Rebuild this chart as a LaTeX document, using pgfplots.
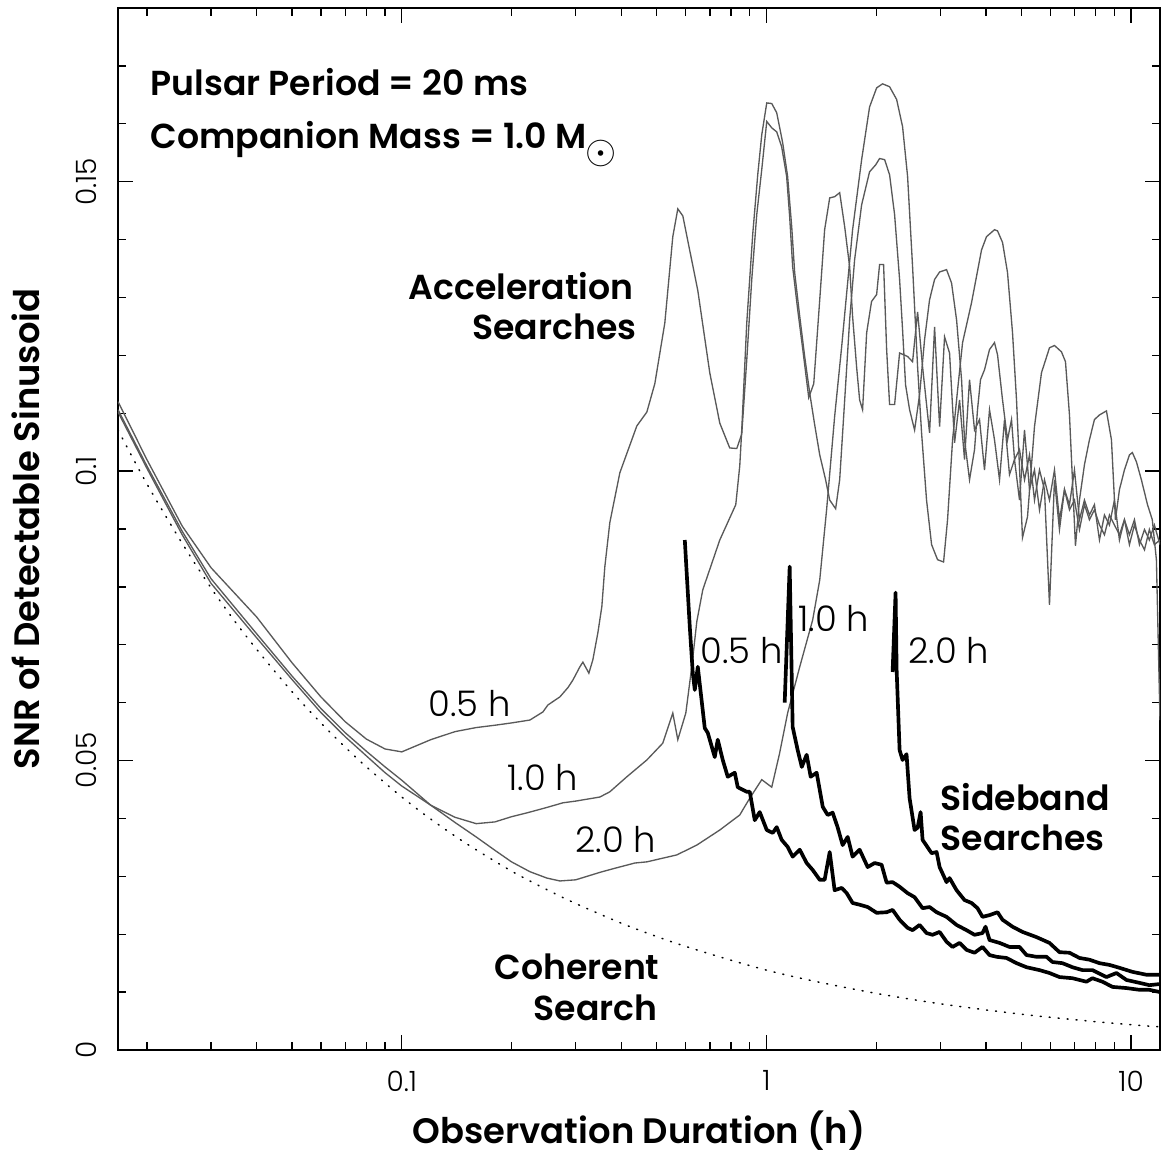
\documentclass[border=0pt]{standalone}
\usepackage{fontspec}
\IfFontExistsTF{Poppins SemiBold}{\setmainfont{Poppins}[BoldFont={Poppins SemiBold}]}{\setmainfont{Poppins}}
\IfFontExistsTF{Poppins Light}{\newfontfamily\thinfont{Poppins Light}}{\newfontfamily\thinfont{Poppins}}
\usepackage{pgfplots}
\pgfplotsset{compat=1.18}
\newcommand{\ann}{\fontsize{10.4}{12}\selectfont}
\begin{document}
\begin{tikzpicture}
\useasboundingbox (-35.4pt,-30.9pt) rectangle (313.2pt,315.0pt);
\begin{axis}[
  at={(0,0)}, anchor=south west, scale only axis,
  width=312.6pt, height=312.6pt,
  xmode=log, xmin=0.016667, xmax=12, ymin=0, ymax=0.18,
  xtick={0.1,1,10}, xticklabels={0.1,1,10},
  minor xtick={0.02,0.03,0.04,0.05,0.06,0.07,0.08,0.09,0.2,0.3,0.4,0.5,0.6,0.7,0.8,0.9,2,3,4,5,6,7,8,9},
  ytick={0,0.05,0.1,0.15}, yticklabels={0,0.05,0.1,0.15},
  minor ytick={0.01,0.02,0.03,0.04,0.06,0.07,0.08,0.09,0.11,0.12,0.13,0.14,0.16,0.17},
  tick align=inside, major tick length=4.5pt, minor tick length=2.4pt,
  tick style={black, line width=0.4pt},
  axis line style={line width=0.5pt},
  /pgf/number format/assume math mode=true,
  ticklabel style={font=\thinfont\fontsize{8.4}{10}\selectfont, inner sep=0pt},
  xticklabel style={anchor=north, yshift=-6pt},
  yticklabel style={xshift=-6.3pt, rotate=90, anchor=south},
  xlabel={Observation Duration (h)},
  ylabel={SNR of Detectable Sinusoid},
  every axis x label/.style={at={(axis description cs:0.5,-0.0893)}, anchor=base, font=\bfseries\fontsize{10.6}{12}\selectfont, inner sep=0pt},
  every axis y label/.style={at={(axis description cs:-0.0749,0.5)}, rotate=90, anchor=base, font=\bfseries\fontsize{10.6}{12}\selectfont, inner sep=0pt},
  acc/.style={line width=0.4pt, color=black!65},
  sb/.style={line width=1.1pt, color=black, line join=round},
]
% Acceleration search, Porb = 0.5 h
\addplot[acc] coordinates {(0.01667,0.1120)(0.02,0.1020)(0.025,0.0905)(0.03,0.0833)(0.04,0.0748)(0.05,0.0669)(0.06,0.0610)(0.07,0.0567)(0.08,0.0537)(0.09,0.0520)(0.1,0.0515)(0.12,0.0536)(0.14,0.0550)(0.16,0.0557)(0.18,0.0561)(0.2,0.0565)(0.2246,0.0570)(0.2438,0.0584)(0.2516,0.0596)(0.2714,0.0610)(0.2855,0.0626)(0.2946,0.0639)(0.3079,0.0662)(0.3138,0.0670)(0.3259,0.0651)(0.3342,0.0674)(0.3450,0.0721)(0.3537,0.0766)(0.3605,0.0835)(0.3720,0.0911)(0.3963,0.0997)(0.4411,0.1078)(0.4699,0.1102)(0.4942,0.1151)(0.5264,0.1256)(0.5536,0.1405)(0.5714,0.1453)(0.5897,0.1441)(0.6483,0.1312)(0.6992,0.1170)(0.7448,0.1083)(0.7933,0.1040)(0.8291,0.1039)(0.8556,0.1064)(0.8831,0.1192)(0.9114,0.1331)(0.9406,0.1443)(0.9708,0.1521)(1.0019,0.1604)(1.034,0.1593)(1.067,0.1586)(1.101,0.1560)(1.136,0.1509)(1.158,0.1439)(1.180,0.1353)(1.218,0.1279)(1.258,0.1210)(1.306,0.1127)(1.348,0.1151)(1.400,0.1296)(1.444,0.1417)(1.491,0.1472)(1.538,0.1474)(1.588,0.1481)(1.639,0.1422)(1.691,0.1353)(1.723,0.1267)(1.767,0.1180)(1.801,0.1123)(1.835,0.1106)(1.883,0.1239)(1.942,0.1293)(2.005,0.1305)(2.043,0.1357)(2.095,0.1357)(2.136,0.1210)(2.176,0.1115)(2.246,0.1115)(2.318,0.1204)(2.438,0.1198)(2.516,0.1189)(2.597,0.1275)(2.680,0.1180)(2.801,0.1066)(2.891,0.1249)(2.984,0.1077)(3.079,0.1232)(3.178,0.1204)(3.280,0.1049)(3.385,0.1123)(3.493,0.1020)(3.605,0.1158)(3.721,0.1071)(3.840,0.1089)(3.963,0.1002)(4.090,0.1106)(4.221,0.1054)(4.357,0.0985)(4.496,0.1089)(4.640,0.0994)(4.789,0.1020)(4.942,0.0950)(5.101,0.1071)(5.264,0.0968)(5.433,0.1002)(5.607,0.0933)(5.787,0.0985)(5.972,0.0950)(6.164,0.1002)(6.361,0.0916)(6.565,0.0968)(6.776,0.0942)(6.993,0.1002)(7.217,0.0916)(7.448,0.0950)(7.687,0.0924)(7.933,0.0942)(8.188,0.0881)(8.450,0.0924)(8.721,0.0907)(9.000,0.0950)(9.289,0.0881)(9.587,0.0916)(9.894,0.0890)(10.21,0.0916)(10.54,0.0873)(10.88,0.0899)(11.22,0.0881)(11.58,0.0907)(12.0,0.0873)};
% Acceleration search, Porb = 1.0 h
\addplot[acc] coordinates {(0.01667,0.1106)(0.02,0.1009)(0.025,0.0896)(0.03,0.0814)(0.04,0.0719)(0.05,0.0646)(0.06,0.0590)(0.07,0.0548)(0.08,0.0516)(0.09,0.0489)(0.1,0.0466)(0.12,0.0423)(0.14,0.0402)(0.16,0.0391)(0.18,0.0394)(0.2,0.0403)(0.2246,0.0411)(0.25,0.0419)(0.2766,0.0427)(0.30,0.0430)(0.3493,0.0437)(0.3720,0.0446)(0.4142,0.0472)(0.4699,0.0501)(0.5197,0.0530)(0.5536,0.0582)(0.5714,0.0536)(0.6010,0.0582)(0.6241,0.0662)(0.6442,0.0740)(0.6690,0.0795)(0.7448,0.0881)(0.8239,0.0942)(0.8449,0.1009)(0.8556,0.1071)(0.8831,0.1256)(0.9172,0.1410)(0.9465,0.1512)(0.9708,0.1581)(1.0019,0.1636)(1.034,0.1635)(1.067,0.1619)(1.108,0.1567)(1.143,0.1509)(1.173,0.1422)(1.195,0.1343)(1.234,0.1267)(1.273,0.1198)(1.314,0.1135)(1.356,0.1080)(1.400,0.1028)(1.453,0.0985)(1.491,0.0950)(1.548,0.0935)(1.588,0.0985)(1.639,0.1123)(1.691,0.1261)(1.745,0.1365)(1.824,0.1460)(1.918,0.1517)(1.993,0.1529)(2.043,0.1540)(2.109,0.1538)(2.176,0.1512)(2.246,0.1443)(2.318,0.1331)(2.362,0.1244)(2.407,0.1149)(2.469,0.1106)(2.548,0.1071)(2.630,0.1132)(2.714,0.1227)(2.801,0.1296)(2.891,0.1331)(2.984,0.1344)(3.118,0.1348)(3.218,0.1325)(3.322,0.1261)(3.428,0.1158)(3.493,0.1054)(3.605,0.0985)(3.721,0.1037)(3.792,0.1106)(3.864,0.1158)(3.963,0.1175)(4.090,0.1210)(4.221,0.1222)(4.302,0.1201)(4.440,0.1123)(4.582,0.1054)(4.699,0.1089)(4.789,0.1020)(4.942,0.1037)(5.101,0.0985)(5.264,0.1028)(5.433,0.0950)(5.607,0.1002)(5.787,0.0968)(5.972,0.0769)(6.164,0.0985)(6.361,0.0899)(6.565,0.0968)(6.776,0.0933)(6.993,0.0950)(7.217,0.0899)(7.448,0.0942)(7.687,0.0916)(7.933,0.0933)(8.188,0.0907)(8.450,0.0890)(8.721,0.0924)(9.000,0.0907)(9.289,0.0890)(9.587,0.0916)(9.894,0.0873)(10.21,0.0907)(10.54,0.0881)(10.88,0.0864)(11.22,0.0899)(11.58,0.0873)(12.0,0.0881)};
% Acceleration search, Porb = 2.0 h
\addplot[acc] coordinates {(0.01667,0.1102)(0.02,0.1005)(0.025,0.0890)(0.03,0.0806)(0.04,0.0712)(0.05,0.0640)(0.06,0.0583)(0.07,0.0541)(0.08,0.0508)(0.09,0.0479)(0.1,0.0456)(0.12,0.0423)(0.14,0.0393)(0.16,0.0368)(0.18,0.0345)(0.2,0.0325)(0.2246,0.0308)(0.25,0.0297)(0.2714,0.0292)(0.30,0.0294)(0.35,0.0307)(0.3791,0.0313)(0.4356,0.0323)(0.4699,0.0325)(0.5678,0.0337)(0.6442,0.0354)(0.7448,0.0380)(0.8449,0.0406)(0.9000,0.0435)(0.9708,0.0467)(1.034,0.0454)(1.087,0.0513)(1.143,0.0582)(1.234,0.0662)(1.339,0.0743)(1.400,0.0812)(1.462,0.0933)(1.538,0.1094)(1.608,0.1215)(1.660,0.1308)(1.723,0.1417)(1.824,0.1538)(1.918,0.1629)(2.005,0.1662)(2.082,0.1669)(2.176,0.1664)(2.275,0.1642)(2.362,0.1595)(2.438,0.1509)(2.516,0.1353)(2.597,0.1180)(2.663,0.1066)(2.748,0.0950)(2.837,0.0873)(2.946,0.0847)(3.060,0.0843)(3.138,0.0916)(3.239,0.1054)(3.343,0.1140)(3.450,0.1222)(3.651,0.1291)(3.889,0.1382)(4.013,0.1405)(4.221,0.1417)(4.302,0.1415)(4.440,0.1395)(4.582,0.1343)(4.729,0.1239)(4.850,0.1123)(4.942,0.1007)(5.036,0.0885)(5.198,0.0921)(5.433,0.1077)(5.678,0.1170)(5.972,0.1213)(6.164,0.1217)(6.442,0.1206)(6.607,0.1189)(6.776,0.1097)(7.037,0.0871)(7.217,0.0950)(7.448,0.1011)(7.687,0.1054)(7.933,0.1089)(8.188,0.1097)(8.557,0.1104)(8.832,0.1054)(9.057,0.0916)(9.289,0.0968)(9.587,0.1002)(9.894,0.1028)(10.08,0.1032)(10.34,0.1016)(10.67,0.0985)(11.09,0.0942)(11.43,0.0916)(11.73,0.0847)(12.0,0.0570)};
% Coherent search
\addplot[smooth, line width=0.45pt, black, dash pattern=on 0.3pt off 2.4pt, line cap=round] coordinates {(0.01667,0.1071)(0.02,0.0978)(0.025,0.0875)(0.03,0.0798)(0.035,0.0739)(0.04,0.0692)(0.05,0.0619)(0.06,0.0565)(0.07,0.0523)(0.08,0.0489)(0.1,0.0437)(0.12,0.0399)(0.15,0.0357)(0.2,0.0309)(0.25,0.0277)(0.3,0.0253)(0.4,0.0219)(0.5,0.0196)(0.6,0.0179)(0.8,0.0155)(1,0.0138)(1.2,0.0126)(1.5,0.0113)(2,0.00978)(2.5,0.00875)(3,0.00798)(4,0.00692)(5,0.00619)(6,0.00565)(8,0.00489)(10,0.00437)(12,0.00399)};
% Sideband search, Porb = 0.5 h
\addplot[sb] coordinates {(0.5972,0.0881)(0.6163,0.0731)(0.6281,0.0651)(0.6361,0.0622)(0.6483,0.0662)(0.6775,0.0556)(0.6904,0.0548)(0.7216,0.0506)(0.7354,0.0536)(0.7590,0.0501)(0.7833,0.0472)(0.8187,0.0479)(0.8343,0.0454)(0.8831,0.0446)(0.9000,0.0446)(0.9288,0.0397)(0.9586,0.0411)(1.0019,0.0380)(1.0405,0.0375)(1.067,0.0385)(1.101,0.0363)(1.143,0.0351)(1.180,0.0334)(1.234,0.0346)(1.289,0.0323)(1.339,0.0311)(1.400,0.0294)(1.444,0.0294)(1.491,0.0342)(1.538,0.0276)(1.608,0.0280)(1.660,0.0271)(1.723,0.0254)(1.801,0.0251)(1.895,0.0247)(2.005,0.0237)(2.136,0.0238)(2.218,0.0242)(2.318,0.0225)(2.438,0.0211)(2.516,0.0207)(2.630,0.0216)(2.748,0.0202)(2.855,0.0199)(2.984,0.0204)(3.118,0.0187)(3.239,0.0178)(3.385,0.0185)(3.537,0.0173)(3.721,0.0168)(3.913,0.0178)(4.090,0.0164)(4.275,0.0161)(4.553,0.0159)(4.850,0.0150)(5.166,0.0143)(5.607,0.0138)(5.972,0.0133)(6.361,0.0126)(6.905,0.0124)(7.543,0.0118)(7.834,0.0124)(8.344,0.0118)(8.888,0.0109)(9.709,0.0107)(10.54,0.0104)(11.22,0.0104)(12.0,0.0100)};
% Sideband search, Porb = 1.0 h
\addplot[sb] coordinates {(1.122,0.0600)(1.158,0.0835)(1.180,0.0558)(1.218,0.0518)(1.250,0.0489)(1.289,0.0510)(1.322,0.0472)(1.373,0.0479)(1.427,0.0420)(1.472,0.0406)(1.519,0.0410)(1.567,0.0385)(1.618,0.0354)(1.670,0.0368)(1.723,0.0334)(1.801,0.0346)(1.895,0.0316)(1.980,0.0323)(2.069,0.0320)(2.136,0.0289)(2.218,0.0290)(2.318,0.0282)(2.438,0.0271)(2.548,0.0264)(2.680,0.0245)(2.801,0.0247)(2.928,0.0238)(3.118,0.0230)(3.322,0.0216)(3.537,0.0207)(3.721,0.0199)(3.913,0.0202)(3.988,0.0213)(4.090,0.0190)(4.357,0.0185)(4.640,0.0178)(4.942,0.0178)(5.166,0.0164)(5.502,0.0161)(5.861,0.0161)(6.086,0.0152)(6.483,0.0150)(6.905,0.0143)(7.355,0.0138)(7.834,0.0138)(8.557,0.0126)(9.114,0.0133)(9.709,0.0121)(10.54,0.0116)(11.22,0.0112)(12.0,0.0114)};
% Sideband search, Porb = 2.0 h
\addplot[sb] coordinates {(2.218,0.0653)(2.260,0.0790)(2.275,0.0657)(2.318,0.0518)(2.362,0.0501)(2.422,0.0511)(2.469,0.0435)(2.548,0.0380)(2.597,0.0384)(2.647,0.0411)(2.680,0.0363)(2.837,0.0340)(2.928,0.0342)(2.984,0.0316)(3.118,0.0290)(3.178,0.0297)(3.322,0.0276)(3.493,0.0259)(3.651,0.0254)(3.792,0.0245)(3.913,0.0230)(4.090,0.0233)(4.302,0.0238)(4.440,0.0225)(4.729,0.0213)(5.036,0.0204)(5.502,0.0195)(5.972,0.0185)(6.361,0.0169)(6.776,0.0168)(7.217,0.0159)(7.687,0.0156)(8.188,0.0150)(8.721,0.0147)(9.289,0.0142)(10.08,0.0135)(11.02,0.0130)(12.0,0.0130)};
% annotations
\begin{scope}[every node/.style={inner sep=0pt, font=\thinfont\fontsize{10.6}{12}\selectfont}]
\node[anchor=base west, font=\bfseries\ann] at (rel axis cs:0.0307,0.9165) {Pulsar Period = 20 ms};
\node[anchor=base west, font=\bfseries\ann] at (rel axis cs:0.0307,0.8656) {Companion Mass = 1.0 M\kern-0.3pt\raisebox{-4.6pt}{\fontsize{13}{13}\selectfont$\odot$}};
\node[anchor=base east, font=\bfseries\ann] at (rel axis cs:0.4952,0.7198) {Acceleration};
\node[anchor=base east, font=\bfseries\ann] at (rel axis cs:0.4981,0.6814) {Searches};
\node[anchor=base east, font=\bfseries\ann] at (rel axis cs:0.5202,0.0672) {Coherent};
\node[anchor=base east, font=\bfseries\ann] at (rel axis cs:0.5182,0.0288) {Search};
\node[anchor=base west, font=\bfseries\ann] at (rel axis cs:0.7889,0.2303) {Sideband};
\node[anchor=base west, font=\bfseries\ann] at (rel axis cs:0.7889,0.1910) {Searches};
\node[anchor=base west] at (rel axis cs:0.2975,0.3196) {0.5 h};
\node[anchor=base west] at (rel axis cs:0.3733,0.2495) {1.0 h};
\node[anchor=base west] at (rel axis cs:0.4386,0.1900) {2.0 h};
\node[anchor=base west] at (rel axis cs:0.5585,0.3714) {0.5 h};
\node[anchor=base west] at (rel axis cs:0.6526,0.4012) {1.0 h};
\node[anchor=base west] at (rel axis cs:0.7582,0.3714) {2.0 h};
\end{scope}
\end{axis}
\end{tikzpicture}
\end{document}
